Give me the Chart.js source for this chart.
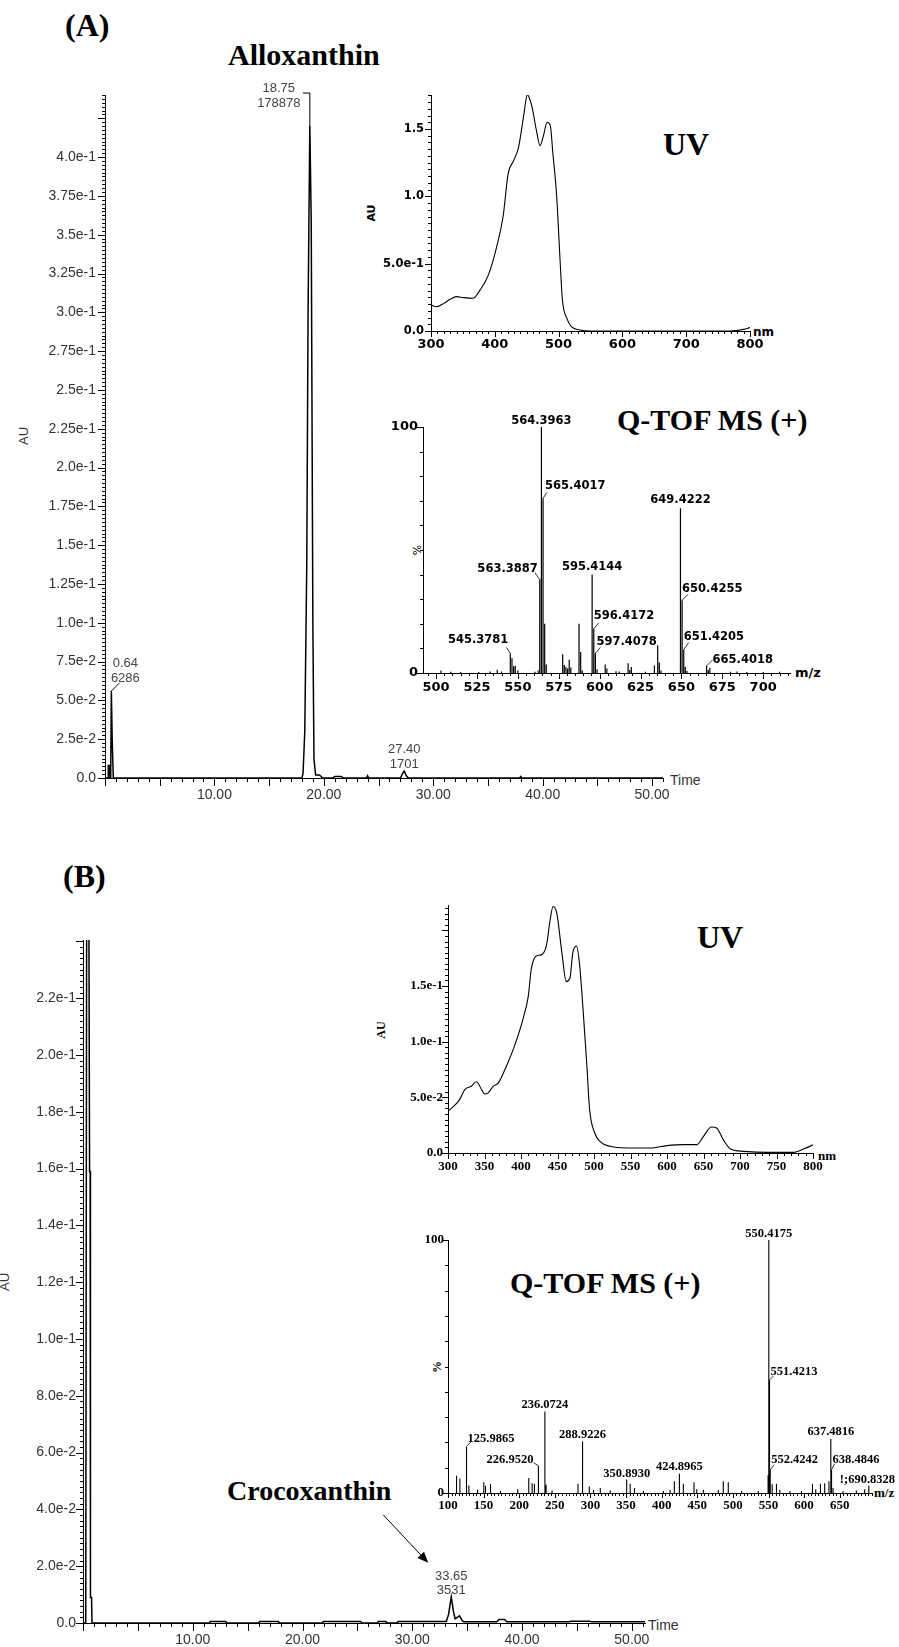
<!DOCTYPE html>
<html>
<head>
<meta charset="utf-8">
<script src="https://cdn.jsdelivr.net/npm/chart.js"></script>
<style>
  html, body { margin: 0; padding: 0; background: #fff; }
  #page { position: relative; width: 899px; height: 1647px; overflow: hidden; background: #fff; }
  .t { position: absolute; white-space: nowrap; line-height: 1; color: #000; }
  .serif { font-family: 'Liberation Serif', serif; font-weight: bold; }
  .sans { font-family: 'Liberation Sans', sans-serif; color: #333; }
  .dv { font-family: 'DejaVu Sans', sans-serif; font-weight: bold; }
  .rot { transform: translate(-50%, -50%) rotate(-90deg); }
</style>
</head>
<body>
<div id="page">
  <div class="t serif" style="left:65px;top:9px;font-size:32px">(A)</div>
  <div class="t serif" style="left:228px;top:40px;font-size:30px">Alloxanthin</div>
  <div class="t serif" style="left:663px;top:128px;font-size:32px">UV</div>
  <div class="t serif" style="left:617px;top:405px;font-size:30px">Q-TOF MS (+)</div>
  <div class="t sans rot" style="left:23px;top:436px;font-size:13px">AU</div>
  <div class="t sans" style="left:670px;top:773px;font-size:14px">Time</div>
  <div class="t dv rot" style="left:371px;top:213px;font-size:11px">AU</div>
  <div class="t dv" style="left:753px;top:326px;font-size:12px">nm</div>
  <div class="t rot" style="left:417px;top:550px;font-size:11px;font-family:'DejaVu Sans'">%</div>
  <div class="t dv" style="left:795px;top:666px;font-size:13px">m/z</div>

  <div class="t serif" style="left:63px;top:860px;font-size:32px">(B)</div>
  <div class="t serif" style="left:697px;top:921px;font-size:32px">UV</div>
  <div class="t serif" style="left:510px;top:1268px;font-size:30px">Q-TOF MS (+)</div>
  <div class="t serif" style="left:227px;top:1477px;font-size:28px">Crocoxanthin</div>
  <div class="t sans rot" style="left:4px;top:1282px;font-size:13px">AU</div>
  <div class="t sans" style="left:648px;top:1618px;font-size:14px">Time</div>
  <div class="t serif rot" style="left:381px;top:1030px;font-size:12px">AU</div>
  <div class="t serif" style="left:818px;top:1149px;font-size:13px">nm</div>
  <div class="t serif rot" style="left:437px;top:1367px;font-size:12px">%</div>
  <div class="t serif" style="left:874px;top:1486px;font-size:13px">m/z</div>
</div>
<script>
// ---------- data (A) ----------
const timeA = [0, 0.28, 0.3, 0.42, 0.45, 0.52, 0.58, 0.66, 0.72, 0.76, 0.9,
  18.0, 18.1, 18.26, 18.44, 18.56, 18.72, 18.85, 19.0, 19.1, 19.25, 19.6, 19.9,
  20.8, 21.0, 21.6, 21.8, 23.9, 24.0, 24.1, 27.0, 27.2, 27.35, 27.5, 27.7, 37.9, 38.0, 38.1, 51];
const auA = [0, 0, 0.008, 0.008, 0, 0, 0.056, 0.024, 0.024, 0, 0,
  0, 0.003, 0.03, 0.137, 0.30, 0.42, 0.358, 0.097, 0.012, 0.002, 0.002, 0,
  0, 0.001, 0.001, 0, 0, 0.0015, 0, 0, 0.003, 0.0045, 0.002, 0, 0, 0.001, 0, 0];

const uvNmA = [300, 309, 320, 330, 340, 351, 366, 377, 390, 403, 413, 421, 429, 437, 445, 451, 458, 465, 471,
  476, 482, 487, 491, 497, 502, 506, 513, 520, 534, 549, 570, 769, 790, 800];
const uvAuA = [0.193, 0.18, 0.205, 0.235, 0.255, 0.248, 0.243, 0.305, 0.417, 0.627, 0.85, 1.17, 1.26, 1.36, 1.59,
  1.755, 1.67, 1.495, 1.376, 1.445, 1.55, 1.525, 1.32, 1.0, 0.553, 0.23, 0.094, 0.032, 0.007, 0, 0, 0, 0.012, 0.025];

const msMzA = [503, 509, 515, 526, 533, 537.4, 540, 545.3781, 546.4, 547.4, 548.4, 550, 560.5, 562.4,
  563.3887, 564.3963, 565.4017, 566.4, 567.4, 577.4, 578.4, 579.4, 580.4, 581.4, 582.4, 587.4, 588.4, 589.4,
  595.4144, 596.4172, 597.4078, 598.4, 603.4, 604.4, 610, 612, 617.4, 618.4, 619.4, 628, 633.5, 635.5, 636.5,
  637.5, 649.4222, 650.4255, 651.4205, 652.4, 653.4, 665.4018, 666.4, 667.4, 680, 684, 690, 700, 710];
const msIntA = [1.0, 0.5, 0.4, 0.4, 0.6, 1.3, 0.6, 8.0, 6.0, 2.7, 2.9, 1.0, 0.5, 1.0,
  38, 100, 71, 20, 3.5, 7.6, 3.3, 2.4, 1.8, 5.4, 2.2, 20, 8.5, 1.0,
  40, 18, 8, 1.5, 3.5, 1.8, 0.7, 0.6, 4.0, 1.2, 2.4, 0.5, 3.0, 11.3, 4.3,
  1.0, 67, 29.6, 9.5, 2.4, 0.8, 2.9, 1.2, 2.0, 0.5, 0.6, 0.4, 0.4, 0.5];
const msLabelsA = [564.3963, 565.4017, 563.3887, 595.4144, 596.4172, 597.4078, 649.4222, 650.4255, 651.4205, 665.4018, 545.3781];
const msTicksA = [500, 525, 550, 575, 600, 625, 650, 675, 700];

// ---------- data (B) ----------
const timeB = [0, 0.25, 0.35, 0.5, 0.6, 0.65, 0.68, 0.78, 0.82, 1.0,
  11.5, 11.6, 13.0, 13.1, 16.0, 16.1, 17.8, 17.9, 21.8, 21.9, 25.3, 25.4, 26.8, 26.9, 27.6, 27.7, 28.6, 28.7, 32.8,
  33.1, 33.3, 33.55, 33.75, 33.9, 34.1, 34.3, 34.55, 34.7, 37.7, 37.9, 38.4, 38.6, 44.3, 44.4, 46.2, 46.3, 49.0, 49.1, 51.2];
const auB = [0, 0, 0.3, 0.3, 0.159, 0.159, 0.009, 0.009, 0, 0,
  0, 0.0005, 0.0005, 0, 0, 0.0005, 0.0005, 0, 0, 0.0005, 0.0005, 0, 0, 0.0005, 0.0005, 0, 0, 0.0005, 0.0005,
  0.0005, 0.003, 0.0092, 0.004, 0.0015, 0.002, 0.0025, 0.0008, 0.0004, 0.0004, 0.0012, 0.0012, 0.0004, 0.0004,
  0.0006, 0.0006, 0.0004, 0.0004, 0.0004, 0.0004];

const uvNmB = [300, 316, 323, 332, 339, 346, 350, 355, 362, 369, 380, 391, 403, 410, 414, 421, 428, 435, 440, 444,
  449, 456, 462, 467, 471, 476, 480, 485, 490, 494, 501, 508, 522, 545, 577, 600, 623, 641, 650, 661, 668, 677,
  687, 705, 737, 774, 787, 801];
const uvAuB = [0.0374, 0.048, 0.057, 0.06, 0.064, 0.057, 0.053, 0.054, 0.06, 0.063, 0.078, 0.096, 0.121, 0.141,
  0.165, 0.177, 0.178, 0.187, 0.21, 0.2215, 0.2156, 0.18, 0.154, 0.157, 0.18, 0.186, 0.171, 0.129, 0.081, 0.039,
  0.018, 0.0105, 0.006, 0.0045, 0.0045, 0.0066, 0.0075, 0.0075, 0.015, 0.0234, 0.0225, 0.012, 0.0036, 0.0015,
  0.0006, 0.0006, 0.0036, 0.0075];

const msMzB = [112.0, 116.7, 125.9865, 129.3, 141.5, 150.3, 152.7, 159.7, 173.7, 197.9, 213.4, 218.1, 221.3,
  226.9520, 236.0724, 237.7, 246.1, 282.5, 288.9226, 298.4, 304.4, 313.8, 327.8, 350.8930, 355.8, 361.8, 374.4,
  402.4, 411.8, 417.8, 424.8965, 430.4, 445.4, 449.2, 458.5, 479.5, 486.5, 493.5, 512.3, 535.6, 549.4, 550.4175,
  551.4213, 552.4242, 555.1, 561.2, 565.9, 580, 596.3, 611.7, 616.3, 622.9, 628.9, 634.9, 637.4816, 638.4846,
  640.6, 654.6, 673.3, 685, 690.8328];
const msIntB = [6.8, 5.7, 18.4, 3.0, 1.3, 4.2, 2.9, 3.6, 0.8, 1.5, 5.9, 3.9, 3.7,
  10.8, 32.2, 3.3, 1.0, 3.7, 20.4, 2.6, 1.2, 2.0, 1.0, 5.3, 3.7, 2.0, 0.8,
  0.8, 1.2, 4.6, 7.6, 3.7, 4.2, 1.5, 1.3, 1.2, 4.6, 4.2, 0.8, 0.8, 7.0, 100,
  44.7, 9.2, 3.5, 3.7, 1.3, 0.8, 0.8, 3.7, 1.5, 3.7, 3.9, 4.6, 21.3, 9.2,
  2.0, 0.8, 1.0, 1.5, 2.9];
const msLabelsB = [550.4175, 551.4213, 552.4242, 637.4816, 638.4846, 690.8328, 125.9865, 226.9520, 236.0724,
  288.9226, 350.8930, 424.8965];

// ---------- helpers ----------
function sci(v) {
  if (Math.abs(v) < 1e-12) return '0.0';
  if (v >= 1) return v.toFixed(1);
  const e = Math.floor(Math.log10(v) + 1e-9);
  const m = Math.round(v / Math.pow(10, e) * 100) / 100;
  const one = Math.abs(m * 10 - Math.round(m * 10)) < 1e-6;
  return (one ? m.toFixed(1) : m.toFixed(2)) + 'e' + e;
}

function xy(xs, ys) {
  return xs.map((x, i) => ({ x: x, y: ys[i] }));
}

function sticks(xs, ys) {
  const out = [];
  xs.forEach((x, i) => {
    out.push({ x: x, y: 0 }, { x: x, y: ys[i] }, { x: x, y: null });
  });
  return out;
}

function intensityAt(xs, ys, v) {
  return ys[xs.indexOf(v)];
}

// minor ticks, peak labels and arrows, all placed through the chart's scales
const extras = {
  id: 'extras',
  afterDraw(chart, args, opts) {
    const ctx = chart.ctx;
    const xs = chart.scales.x, ys = chart.scales.y;
    const area = chart.chartArea;
    ctx.save();
    ctx.strokeStyle = '#000';
    ctx.lineWidth = 1;
    (opts.xTicks || []).forEach(t => {
      for (let i = Math.ceil(xs.min / t.step - 1e-6); i * t.step <= xs.max + 1e-6; i++) {
        const p = Math.round(xs.getPixelForValue(i * t.step)) + 0.5;
        ctx.beginPath();
        ctx.moveTo(p, area.bottom);
        ctx.lineTo(p, area.bottom + t.len);
        ctx.stroke();
      }
    });
    (opts.yTicks || []).forEach(t => {
      for (let i = Math.ceil(ys.min / t.step - 1e-6); i * t.step <= ys.max + 1e-6; i++) {
        const p = Math.round(ys.getPixelForValue(i * t.step)) + 0.5;
        ctx.beginPath();
        ctx.moveTo(area.left, p);
        ctx.lineTo(area.left - t.len, p);
        ctx.stroke();
      }
    });
    ctx.font = opts.font || '13px "Liberation Sans"';
    ctx.fillStyle = opts.color || '#000';
    ctx.strokeStyle = opts.leaderColor || '#000';
    (opts.labels || []).forEach(l => {
      const px = xs.getPixelForValue(l.x);
      const py = ys.getPixelForValue(l.y);
      ctx.textAlign = l.align || 'center';
      ctx.textBaseline = 'alphabetic';
      l.text.forEach((s, k) => {
        ctx.fillText(s, px + l.dx, py + l.dy + k * (opts.lineHeight || 14));
      });
      if (l.leader) {
        ctx.beginPath();
        l.leader.forEach((p, k) => {
          if (k === 0) ctx.moveTo(px + p[0], py + p[1]);
          else ctx.lineTo(px + p[0], py + p[1]);
        });
        ctx.stroke();
      }
    });
    (opts.arrows || []).forEach(a => {
      const px = xs.getPixelForValue(a.x);
      const py = ys.getPixelForValue(a.y);
      const x1 = px + a.from[0], y1 = py + a.from[1];
      const x2 = px + a.to[0], y2 = py + a.to[1];
      const ang = Math.atan2(y2 - y1, x2 - x1);
      ctx.lineWidth = 1;
      ctx.beginPath();
      ctx.moveTo(x1, y1);
      ctx.lineTo(x2 - 8 * Math.cos(ang), y2 - 8 * Math.sin(ang));
      ctx.stroke();
      ctx.fillStyle = '#000';
      ctx.beginPath();
      ctx.moveTo(x2, y2);
      ctx.lineTo(x2 - 11 * Math.cos(ang) + 4.5 * Math.sin(ang), y2 - 11 * Math.sin(ang) - 4.5 * Math.cos(ang));
      ctx.lineTo(x2 - 11 * Math.cos(ang) - 4.5 * Math.sin(ang), y2 - 11 * Math.sin(ang) + 4.5 * Math.cos(ang));
      ctx.closePath();
      ctx.fill();
    });
    ctx.restore();
  }
};
Chart.register(extras);

function axis(min, max, step, font, color, pad, cb, fixedTicks) {
  const a = {
    type: 'linear', min: min, max: max,
    border: { display: true, color: '#000', width: 1 },
    grid: { display: true, drawOnChartArea: false, drawTicks: false },
    ticks: { stepSize: step, autoSkip: false, maxRotation: 0, includeBounds: false,
      padding: pad, font: font, color: color, callback: cb }
  };
  if (fixedTicks) {
    a.afterBuildTicks = s => { s.ticks = fixedTicks.map(v => ({ value: v })); };
  }
  return a;
}

function makeChart(id, box, pad, datasets, xAxis, yAxis, extrasOpts) {
  const div = document.createElement('div');
  div.style.cssText = 'position:absolute;left:' + (box.l - pad.l) + 'px;top:' + (box.t - pad.t) + 'px;width:' +
    (box.r - box.l + pad.l + pad.r) + 'px;height:' + (box.b - box.t + pad.t + pad.b) + 'px';
  const cv = document.createElement('canvas');
  cv.id = id;
  div.appendChild(cv);
  document.getElementById('page').appendChild(div);
  xAxis.afterFit = s => { s.height = pad.b; s.paddingLeft = 0; s.paddingRight = 0; };
  yAxis.afterFit = s => { s.width = pad.l; s.paddingTop = 0; s.paddingBottom = 0; };
  return new Chart(cv, {
    type: 'line',
    data: { datasets: datasets },
    options: {
      animation: false, responsive: true, maintainAspectRatio: false,
      layout: { padding: { top: pad.t, right: pad.r, left: 0, bottom: 0 } },
      elements: { point: { radius: 0 }, line: { tension: 0 } },
      plugins: { legend: { display: false }, tooltip: { enabled: false }, extras: extrasOpts },
      scales: { x: xAxis, y: yAxis }
    }
  });
}

const sansTick = { family: 'Liberation Sans', size: 14 };
const dvTick = { family: 'DejaVu Sans', size: 13, weight: 'bold' };
const dvTickY = { family: 'DejaVu Sans', size: 11.5, weight: 'bold' };
const serifTick = { family: 'Liberation Serif', size: 13, weight: 'bold' };
const timeLabel = v => (v === 0 ? '' : v.toFixed(2));

// ---------- (A) chromatogram ----------
makeChart('chromA', { l: 105, t: 95, r: 663, b: 778 }, { l: 105, t: 95, r: 40, b: 30 },
  [{ data: xy(timeA, auA), borderColor: '#000', borderWidth: 1.5, fill: false }],
  axis(0, 51, 10, sansTick, '#333', 9, timeLabel),
  axis(0, 0.44, 0.025, sansTick, '#333', 9, v => (v > 0.41 ? '' : sci(v))),
  {
    xTicks: [{ step: 1, len: 4 }, { step: 5, len: 8 }],
    yTicks: [{ step: 0.0025, len: 3 }, { step: 0.025, len: 7 }],
    font: '13px "Liberation Sans"', color: '#444', lineHeight: 15,
    labels: [
      { x: 18.72, y: 0.42, text: ['18.75', '178878'], dx: -31, dy: -34, leader: [[-7, -33], [0, -33], [0, 0]] },
      { x: 0.58, y: 0.056, text: ['0.64', '6286'], dx: 14, dy: -24, leader: [[8, -8], [0, 0]] },
      { x: 27.35, y: 0.0045, text: ['27.40', '1701'], dx: 0, dy: -18 }
    ]
  });

// ---------- (A) UV ----------
makeChart('uvA', { l: 431, t: 95, r: 750, b: 331 }, { l: 70, t: 10, r: 20, b: 25 },
  [{ data: xy(uvNmA, uvAuA), borderColor: '#000', borderWidth: 1.1, fill: false, cubicInterpolationMode: 'monotone' }],
  axis(300, 800, 100, dvTick, '#000', 6, v => v),
  axis(0, 1.7525, 0.5, dvTickY, '#000', 7, v => sci(v)),
  { xTicks: [{ step: 10, len: 3 }, { step: 100, len: 6 }], yTicks: [{ step: 0.05, len: 3 }, { step: 0.5, len: 6 }] });

// ---------- (A) MS ----------
makeChart('msA', { l: 423, t: 427, r: 790, b: 673 }, { l: 45, t: 20, r: 20, b: 25 },
  [{ data: sticks(msMzA, msIntA), borderColor: '#000', borderWidth: 1.2, fill: false, spanGaps: false }],
  axis(492, 716.4, 25, dvTick, '#000', 7, v => v, msTicksA),
  axis(0, 100, 100, dvTick, '#000', 5, v => v),
  {
    xTicks: [{ step: 5, len: 3 }, { step: 25, len: 6 }], yTicks: [{ step: 10, len: 3 }, { step: 100, len: 6 }],
    font: 'bold 11.5px "DejaVu Sans"', color: '#000', leaderColor: '#333',
    labels: msLabelsA.map((mz, i) => {
      const pos = [[0, -3, 'center'], [2, -9, 'left', [[4, -6], [0, 0]]], [-2, -8, 'right', [[-5, -7], [0, 0]]],
        [0, -5, 'center'], [0, -10, 'left', [[5, -6], [0, 0]]], [1, -8, 'left', [[5, -6], [0, 0]]],
        [0, -5, 'center'], [0, -8, 'left', [[6, -6], [0, 0]]], [0, -10, 'left', [[5, -7], [0, 0]]],
        [6, -3, 'left', [[6, -6], [0, 0]]], [-2, -10, 'right', [[-4, -6], [0, 0]]]][i];
      return { x: mz, y: intensityAt(msMzA, msIntA, mz), text: [mz.toFixed(4)], dx: pos[0], dy: pos[1], align: pos[2], leader: pos[3] };
    })
  });

// ---------- (B) chromatogram ----------
makeChart('chromB', { l: 83, t: 940, r: 645, b: 1623 }, { l: 83, t: 20, r: 40, b: 24 },
  [{ data: xy(timeB, auB), borderColor: '#000', borderWidth: 1.5, fill: false }],
  axis(0, 51.2, 10, sansTick, '#333', 9, timeLabel),
  axis(0, 0.2405, 0.02, sansTick, '#333', 7, v => (v > 0.23 ? '' : sci(v))),
  {
    xTicks: [{ step: 1, len: 4 }, { step: 5, len: 8 }],
    yTicks: [{ step: 0.002, len: 3 }, { step: 0.02, len: 7 }],
    font: '13px "Liberation Sans"', color: '#444', lineHeight: 14,
    labels: [{ x: 33.55, y: 0.0092, text: ['33.65', '3531'], dx: 0, dy: -17 }],
    arrows: [{ x: 33.55, y: 0.0092, from: [-68, -82], to: [-23, -34] }]
  });

// ---------- (B) UV ----------
makeChart('uvB', { l: 448, t: 905, r: 813, b: 1153 }, { l: 65, t: 10, r: 20, b: 25 },
  [{ data: xy(uvNmB, uvAuB), borderColor: '#000', borderWidth: 1.1, fill: false, cubicInterpolationMode: 'monotone' }],
  axis(300, 800, 50, serifTick, '#000', 6, v => v),
  axis(0, 0.2228, 0.05, serifTick, '#000', 5, v => (v > 0.16 ? '' : sci(v))),
  { xTicks: [{ step: 10, len: 3 }, { step: 50, len: 6 }], yTicks: [{ step: 0.005, len: 3 }, { step: 0.05, len: 6 }] });

// ---------- (B) MS ----------
makeChart('msB', { l: 448, t: 1240, r: 872, b: 1493 }, { l: 40, t: 15, r: 27, b: 25 },
  [{ data: sticks(msMzB, msIntB), borderColor: '#000', borderWidth: 1.1, fill: false, spanGaps: false }],
  axis(100, 695.3, 50, serifTick, '#000', 5, v => v),
  axis(0, 100, 100, serifTick, '#000', 4, v => v),
  {
    xTicks: [{ step: 5, len: 3 }, { step: 50, len: 5 }], yTicks: [{ step: 10, len: 3 }, { step: 100, len: 6 }],
    font: 'bold 12.5px "Liberation Serif"', color: '#000', leaderColor: '#333',
    labels: msLabelsB.map((mz, i) => {
      const pos = [[0, -3, 'center'], [1, -5, 'left', [[4, -4], [0, 0]]], [1, -7, 'left', [[4, -5], [0, 0]]],
        [0, -4, 'center'], [1, -7, 'left', [[3, -6], [0, 0]]], [-29, -3, 'left'],
        [1, -4, 'left', [[4, -4], [0, 0]]], [-5, -3, 'right', [[-5, -3], [0, 0]]], [0, -4, 'center'],
        [0, -3, 'center'], [0, -3, 'center'], [0, -4, 'center']][i];
      const txt = i === 5 ? '!;' + mz.toFixed(4) : mz.toFixed(4);
      return { x: mz, y: intensityAt(msMzB, msIntB, mz), text: [txt], dx: pos[0], dy: pos[1], align: pos[2], leader: pos[3] };
    })
  });
</script>
</body>
</html>
